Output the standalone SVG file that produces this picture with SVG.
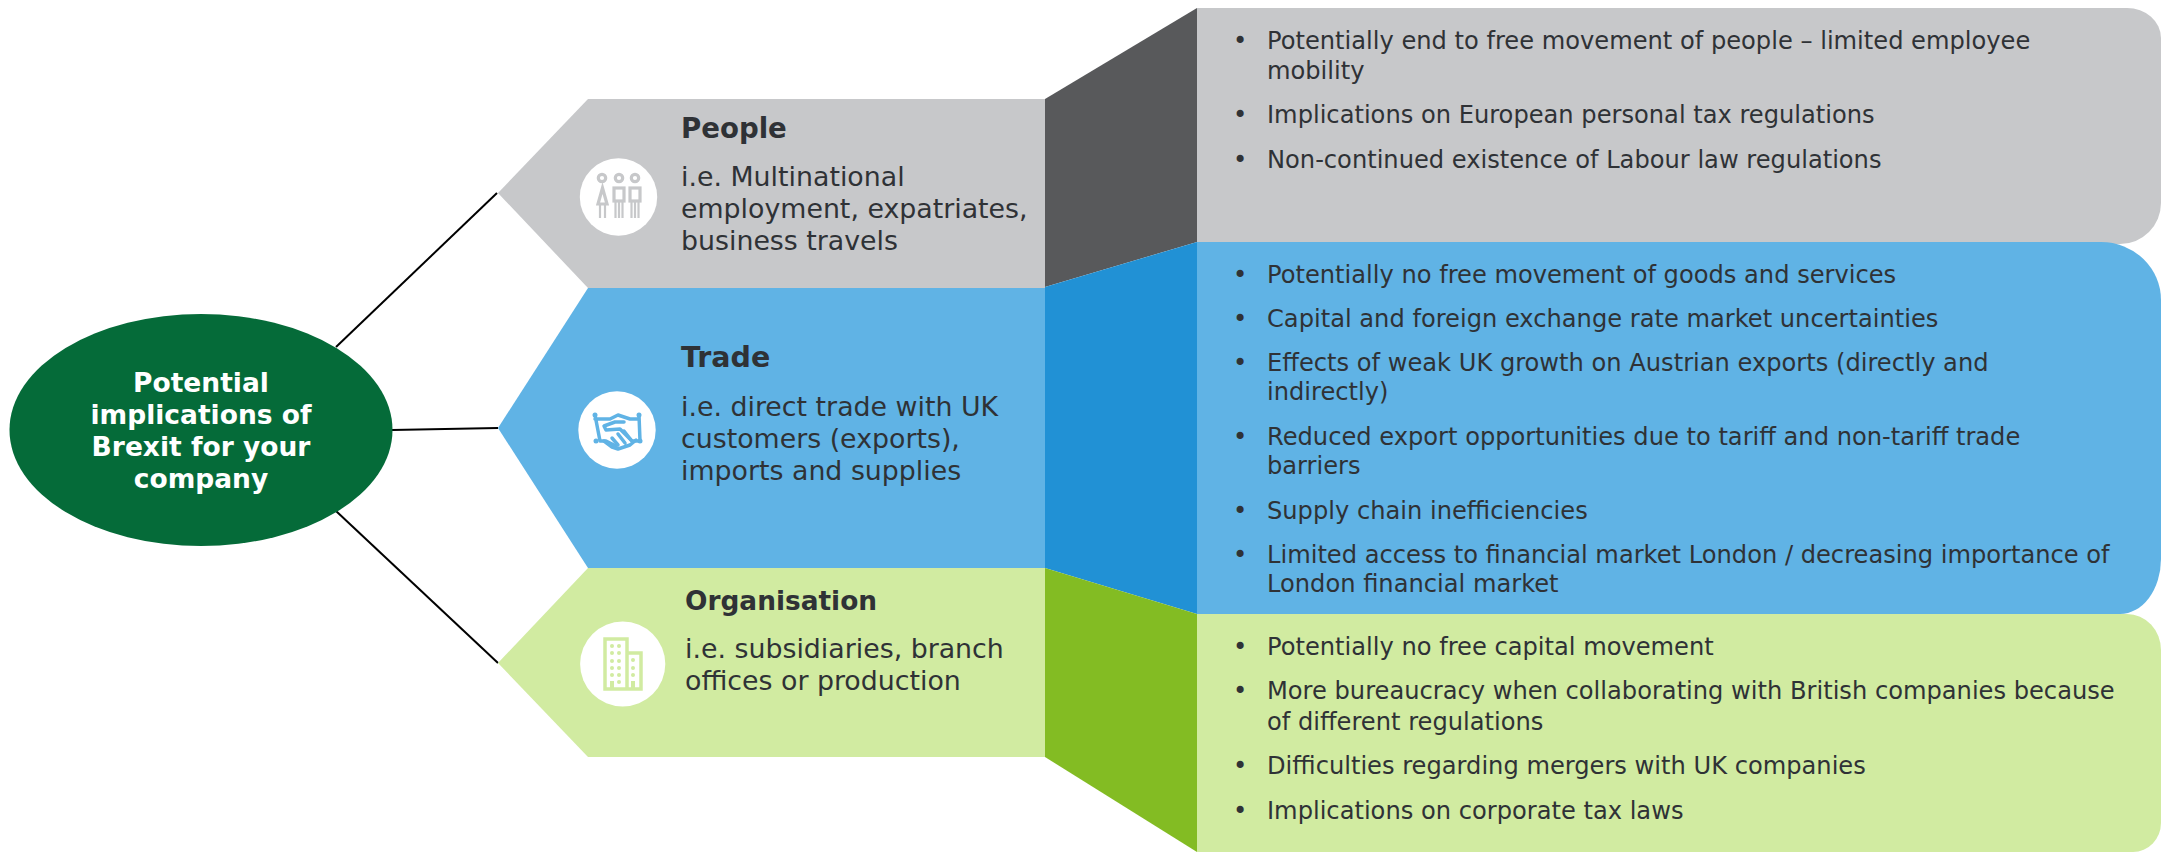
<svg xmlns="http://www.w3.org/2000/svg" width="2161" height="852" viewBox="0 0 2161 852">
<style>
text{font-family:"DejaVu Sans",Verdana,sans-serif;fill:#2f3236}
.b{font-size:24.15px}
.h{font-size:27.6px;font-weight:bold}
.s{font-size:26.8px}
.e{font-size:26.5px;font-weight:bold;fill:#fff;text-anchor:middle}
.c{fill:#fff}
.ln{stroke:#000;stroke-width:2;fill:none}
</style>
<rect width="2161" height="852" fill="#fff"/>
<g id="connectors">
<line class="ln" x1="336" y1="347" x2="497" y2="193"/>
<line class="ln" x1="392" y1="430" x2="498" y2="428"/>
<line class="ln" x1="336" y1="511" x2="498" y2="663"/>
</g>
<g id="root">
<ellipse cx="201" cy="430" rx="191.5" ry="116" fill="#056b39"/>
<text class="e" x="201" y="392">Potential</text>
<text class="e" x="201" y="424">implications of</text>
<text class="e" x="201" y="456">Brexit for your</text>
<text class="e" x="201" y="488">company</text>
</g>
<g id="detail-people">
<path d="M1197 8H2127A34 30 0 0 1 2161 38V203A41 41 0 0 1 2120 244H1197Z" fill="#c7c8ca"/>
<text class="b" x="1233" y="49">•</text>
<text class="b" x="1267" y="49">Potentially end to free movement of people – limited employee</text>
<text class="b" x="1267" y="79">mobility</text>
<text class="b" x="1233" y="123">•</text>
<text class="b" x="1267" y="123">Implications on European personal tax regulations</text>
<text class="b" x="1233" y="168">•</text>
<text class="b" x="1267" y="168">Non-continued existence of Labour law regulations</text>
</g>
<g id="detail-trade">
<path d="M1197 242H2101A60 58 0 0 1 2161 300V559A41 55 0 0 1 2120 614H1197Z" fill="#60b3e5"/>
<text class="b" x="1233" y="283">•</text>
<text class="b" x="1267" y="283">Potentially no free movement of goods and services</text>
<text class="b" x="1233" y="327">•</text>
<text class="b" x="1267" y="327">Capital and foreign exchange rate market uncertainties</text>
<text class="b" x="1233" y="371">•</text>
<text class="b" x="1267" y="371">Effects of weak UK growth on Austrian exports (directly and</text>
<text class="b" x="1267" y="400">indirectly)</text>
<text class="b" x="1233" y="445">•</text>
<text class="b" x="1267" y="445">Reduced export opportunities due to tariff and non-tariff trade</text>
<text class="b" x="1267" y="474">barriers</text>
<text class="b" x="1233" y="519">•</text>
<text class="b" x="1267" y="519">Supply chain inefficiencies</text>
<text class="b" x="1233" y="563">•</text>
<text class="b" x="1267" y="563">Limited access to financial market London / decreasing importance of</text>
<text class="b" x="1267" y="592">London financial market</text>
</g>
<g id="detail-organisation">
<path d="M1197 614H2127A34 36 0 0 1 2161 650V823A28 29 0 0 1 2133 852H1197Z" fill="#d1eba1"/>
<text class="b" x="1233" y="655">•</text>
<text class="b" x="1267" y="655">Potentially no free capital movement</text>
<text class="b" x="1233" y="699">•</text>
<text class="b" x="1267" y="699">More bureaucracy when collaborating with British companies because</text>
<text class="b" x="1267" y="730">of different regulations</text>
<text class="b" x="1233" y="774">•</text>
<text class="b" x="1267" y="774">Difficulties regarding mergers with UK companies</text>
<text class="b" x="1233" y="819">•</text>
<text class="b" x="1267" y="819">Implications on corporate tax laws</text>
</g>
<g id="people">
<path d="M498 193L588 99H1045V288H588Z" fill="#c7c8ca"/>
<path d="M1045 99L1197 8V242L1045 287Z" fill="#58595b"/>
<circle class="c" cx="618.5" cy="197" r="38.7"/>
<g fill="none" stroke="#c7c8ca" stroke-width="3.2">
<circle cx="602" cy="178" r="3.7"/><circle cx="619" cy="178" r="3.7"/><circle cx="635" cy="178" r="3.7"/>
<path d="M602.500 188L598 204H607Z"/>
<rect x="614" y="188" width="10" height="13"/>
<rect x="630" y="188" width="10" height="13"/>
<path stroke-width="2.2" d="M600 204V218M605 204V218M615.500 201V218M619 201V218M622.500 201V218M631.500 201V218M635 201V218M638.500 201V218"/>
</g>
<text class="h" x="681" y="138">People</text>
<text class="s" x="681" y="186">i.e. Multinational</text>
<text class="s" x="681" y="218">employment, expatriates,</text>
<text class="s" x="681" y="250">business travels</text>
</g>
<g id="trade">
<path d="M498 428L588 288H1045V568H588Z" fill="#60b3e5"/>
<path d="M1045 287L1197 242V614L1045 568Z" fill="#2191d5"/>
<circle class="c" cx="617" cy="430" r="38.7"/>
<g fill="none" stroke="#60b3e5" stroke-width="3.5" stroke-linejoin="round" stroke-linecap="round">
<path d="M595 415L600 441M639 415L640 441M595 419H610L618 415L630 419H639M600 441L606 441L616 446M640 441H632L620 429L606 430L604 426L615 422H624"/>
<path d="M604 441L612 447L618 449L630 445L636 440M612 438L618 445M618 434L625 443M624 431L631 440"/>
</g>
<g fill="#60b3e5"><circle cx="595" cy="415" r="2.5"/><circle cx="639" cy="415" r="2.5"/><circle cx="596" cy="441" r="2.5"/><circle cx="640" cy="441" r="2.5"/></g>
<text class="h" style="font-size:28.5px" x="681" y="367">Trade</text>
<text class="s" x="681" y="416">i.e. direct trade with UK</text>
<text class="s" x="681" y="448">customers (exports),</text>
<text class="s" x="681" y="480">imports and supplies</text>
</g>
<g id="organisation">
<path d="M498 663L588 568H1045V757H588Z" fill="#d1eba1"/>
<path d="M1045 568L1197 614V852L1045 757Z" fill="#83bc23"/>
<circle class="c" cx="622.7" cy="664" r="42.6"/>
<g fill="none" stroke="#d1eba1" stroke-width="3.5">
<path d="M605 689V639H627V689ZM627 653H641V689H627"/>
</g>
<g fill="#d1eba1">
<circle cx="612" cy="646" r="2"/><circle cx="619" cy="646" r="2"/><circle cx="612" cy="653" r="2"/><circle cx="619" cy="653" r="2"/><circle cx="612" cy="661" r="2"/><circle cx="619" cy="661" r="2"/><circle cx="612" cy="668" r="2"/><circle cx="619" cy="668" r="2"/><circle cx="612" cy="675" r="2"/><circle cx="619" cy="675" r="2"/><circle cx="619" cy="682" r="2"/>
<circle cx="633" cy="660" r="2"/><circle cx="633" cy="668" r="2"/><circle cx="633" cy="675" r="2"/>
<rect x="610" y="681" width="4" height="8"/><rect x="631" y="681" width="4" height="8"/>
</g>
<text class="h" style="font-size:26.4px" x="685" y="610">Organisation</text>
<text class="s" x="685" y="658">i.e. subsidiaries, branch</text>
<text class="s" x="685" y="690">offices or production</text>
</g>
</svg>
